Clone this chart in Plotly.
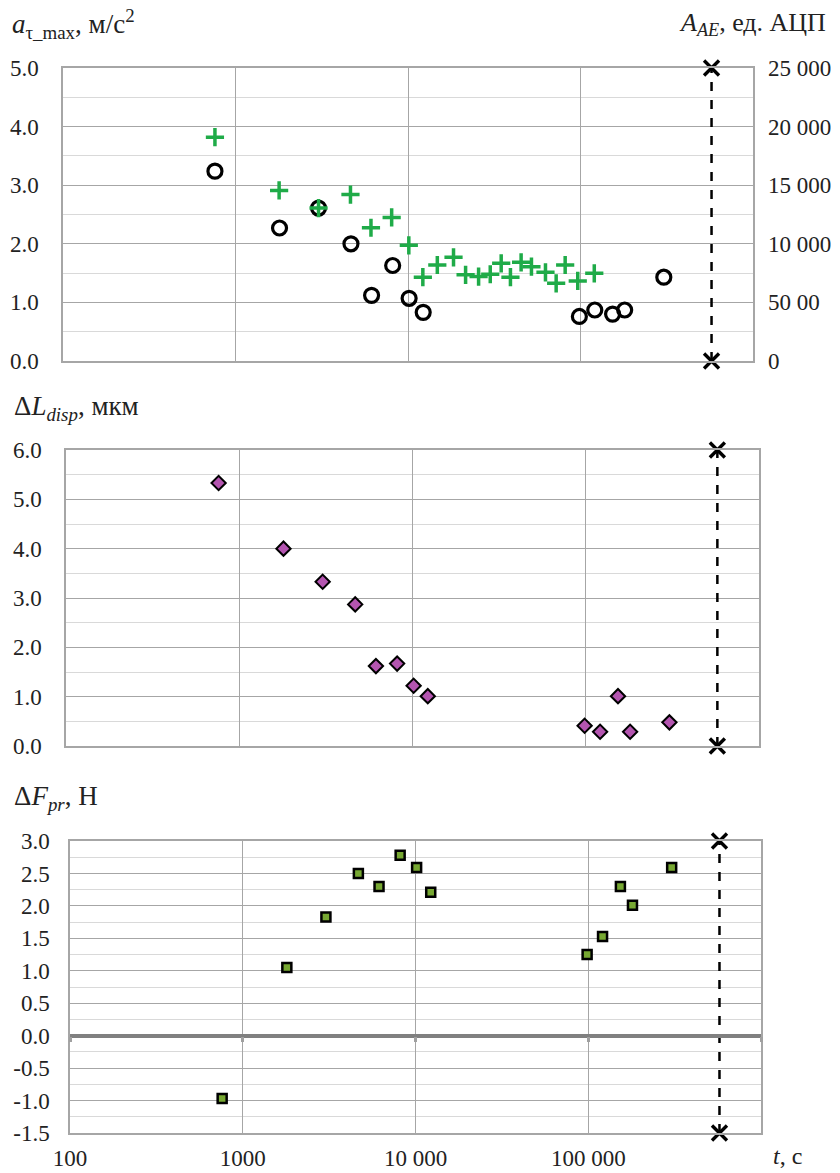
import plotly.graph_objects as go

# ---------------- data ----------------
t_meas = [760, 1800, 3030, 4670, 6150, 8150, 10150, 12250, 98500, 121000, 153500, 180300, 304000]
a_tau_max = [3.24, 2.27, 2.61, 2.00, 1.12, 1.63, 1.07, 0.83, 0.76, 0.87, 0.80, 0.87, 1.43]
dL_disp = [5.33, 4.00, 3.33, 2.87, 1.62, 1.67, 1.22, 1.01, 0.41, 0.29, 1.01, 0.29, 0.48]
dF_pr = [-0.97, 1.05, 1.83, 2.50, 2.30, 2.78, 2.59, 2.21, 1.25, 1.53, 2.30, 2.01, 2.59]

t_ae = [760, 1790, 3030, 4640, 6100, 8040, 10110, 12190, 14790, 18360, 21570, 25660,
        29980, 34690, 39250, 45260, 51960, 62660, 72260, 81500, 96400, 120200]
A_ae = [19100, 14550, 13050, 14200, 11370, 12250, 9870, 7150, 8190, 8850, 7350, 7200,
        7400, 8330, 7150, 8420, 8050, 7570, 6630, 8190, 6830, 7480]

t_end = 575000

y1_ticks = [0, 1, 2, 3, 4, 5]
y1_text = ["0.0", "1.0", "2.0", "3.0", "4.0", "5.0"]
y2_ticks = [0, 5000, 10000, 15000, 20000, 25000]
y2_text = ["0", "50 00", "10 000", "15 000", "20 000", "25 000"]
y3_ticks = [0, 1, 2, 3, 4, 5, 6]
y3_text = ["0.0", "1.0", "2.0", "3.0", "4.0", "5.0", "6.0"]
y4_ticks = [-1.5, -1.0, -0.5, 0.0, 0.5, 1.0, 1.5, 2.0, 2.5, 3.0]
y4_text = ["-1.5", "-1.0", "-0.5", "0.0", "0.5", "1.0", "1.5", "2.0", "2.5", "3.0"]
x_ticks = [100, 1000, 10000, 100000]
x_text = ["100", "1000", "10 000", "100 000"]

# ---------------- styling ----------------
W, H = 840, 1173
FONT = "Times New Roman, Liberation Serif, DejaVu Serif, serif"
MAJ = "#a6a6a6"
MIN = "#d9d9d9"


def px_x(p):
    return p / W


def px_y(p):
    return 1 - p / H


fig = go.Figure()

end_marker = dict(symbol="x-thin", size=15, color="black", line=dict(width=3.4, color="black"))
end_line = dict(color="black", width=2.5, dash="dash")

# top panel
fig.add_trace(go.Scatter(x=t_meas, y=a_tau_max, mode="markers", xaxis="x", yaxis="y",
                         marker=dict(symbol="circle-open", size=14, color="black",
                                     line=dict(width=3.2, color="black")), showlegend=False))
fig.add_trace(go.Scatter(x=t_ae, y=A_ae, mode="markers", xaxis="x", yaxis="y2",
                         marker=dict(symbol="cross-thin", size=13, color="#1fab48",
                                     line=dict(width=3.5, color="#1fab48")), showlegend=False))
fig.add_trace(go.Scatter(x=[t_end, t_end], y=[0, 5], mode="lines+markers", xaxis="x", yaxis="y",
                         line=end_line, marker=end_marker, cliponaxis=False, showlegend=False))

# middle panel
fig.add_trace(go.Scatter(x=[t_end, t_end], y=[0, 6], mode="lines+markers", xaxis="x2", yaxis="y3",
                         line=end_line, marker=end_marker, cliponaxis=False, showlegend=False))
fig.add_trace(go.Scatter(x=t_meas, y=dL_disp, mode="markers", xaxis="x2", yaxis="y3",
                         marker=dict(symbol="diamond", size=11, color="#b455b0",
                                     line=dict(width=2, color="black")), showlegend=False))

# bottom panel
fig.add_trace(go.Scatter(x=[t_end, t_end], y=[-1.5, 3], mode="lines+markers", xaxis="x3", yaxis="y4",
                         line=end_line, marker=end_marker, cliponaxis=False, showlegend=False))
fig.add_trace(go.Scatter(x=t_meas, y=dF_pr, mode="markers", xaxis="x3", yaxis="y4",
                         marker=dict(symbol="square", size=9, color="#77a832",
                                     line=dict(width=2.5, color="black")), showlegend=False))
# invisible trace for the zero-axis overlay
fig.add_trace(go.Scatter(x=[t_end], y=[0], mode="markers", xaxis="x4", yaxis="y4",
                         marker=dict(opacity=0), showlegend=False, hoverinfo="skip"))

tickfont = dict(family=FONT, size=23, color="#222222")

xbase = dict(type="log", range=[2, 6], dtick=1, showgrid=True, gridcolor=MAJ, gridwidth=1.2,
             showline=True, linecolor=MAJ, linewidth=1.5, mirror=True, ticks="", zeroline=False,
             tickfont=tickfont, automargin=False)
ybase = dict(showgrid=True, gridcolor=MAJ, gridwidth=1.2, showline=True, linecolor=MAJ,
             linewidth=1.5, mirror=True, ticks="", zeroline=False, tickfont=tickfont,
             ticklabelstandoff=18, automargin=False)

top_x = [px_x(63), px_x(753)]
top_y = [px_y(361), px_y(68)]
mid_x = [px_x(66), px_x(759)]
mid_y = [px_y(746), px_y(450)]
bot_x = [px_x(70), px_x(761)]
bot_y = [px_y(1133), px_y(841)]

fig.update_layout(
    width=W, height=H, margin=dict(l=0, r=0, t=0, b=0, autoexpand=False),
    plot_bgcolor="white", paper_bgcolor="white",
    xaxis=dict(xbase, domain=top_x, anchor="y", showticklabels=False),
    yaxis=dict(ybase, domain=top_y, anchor="x", range=[0, 5], tickvals=y1_ticks, ticktext=y1_text,
               minor=dict(dtick=0.5, showgrid=True, gridcolor=MIN, gridwidth=1.2)),
    yaxis2=dict(domain=top_y, anchor="x", overlaying="y", side="right", range=[0, 25000],
                tickvals=y2_ticks, ticktext=y2_text, showgrid=False, showline=False, ticks="",
                zeroline=False, tickfont=tickfont, ticklabelstandoff=14, automargin=False),
    xaxis2=dict(xbase, domain=mid_x, anchor="y3", showticklabels=False),
    yaxis3=dict(ybase, domain=mid_y, anchor="x2", range=[0, 6], tickvals=y3_ticks, ticktext=y3_text,
                minor=dict(dtick=0.5, showgrid=True, gridcolor=MIN, gridwidth=1.2)),
    xaxis3=dict(xbase, domain=bot_x, anchor="y4", tickvals=x_ticks, ticktext=x_text,
                ticklabelstandoff=4),
    yaxis4=dict(ybase, domain=bot_y, anchor="x3", range=[-1.5, 3], tickvals=y4_ticks, ticktext=y4_text,
                minor=dict(dtick=0.25, showgrid=True, gridcolor=MIN, gridwidth=1.2),
                ticklabelstandoff=14),
    xaxis4=dict(type="log", range=[2, 6], dtick=1, domain=bot_x, overlaying="x3", anchor="free",
                position=px_y(1035.5), showline=True, linecolor="#808080", linewidth=3.5,
                ticks="outside", ticklen=5, tickwidth=2.5, tickcolor="#a0a0a0",
                showticklabels=False, showgrid=False, zeroline=False, automargin=False),
)

title_font = dict(family=FONT, size=27, color="#222222")
annots = [
    dict(text="<i>a</i><sub>τ_max</sub>, м/с<sup>2</sup>", x=px_x(10), y=px_y(24), xanchor="left"),
    dict(text="<i>A<sub>AE</sub></i>, ед. АЦП", x=px_x(828), y=px_y(24), xanchor="right",
         font=dict(family=FONT, size=26, color="#222222")),
    dict(text="Δ<i>L<sub>disp</sub></i>, мкм", x=px_x(12), y=px_y(408), xanchor="left"),
    dict(text="Δ<i>F<sub>pr</sub></i>, Н", x=px_x(12), y=px_y(798), xanchor="left"),
    dict(text="<i>t</i>, с", x=px_x(771), y=px_y(1156), xanchor="left",
         font=dict(family=FONT, size=24, color="#222222")),
]
for a in annots:
    a.setdefault("font", title_font)
    fig.add_annotation(xref="paper", yref="paper", yanchor="middle", showarrow=False, **a)

fig.write_html("out.html")
